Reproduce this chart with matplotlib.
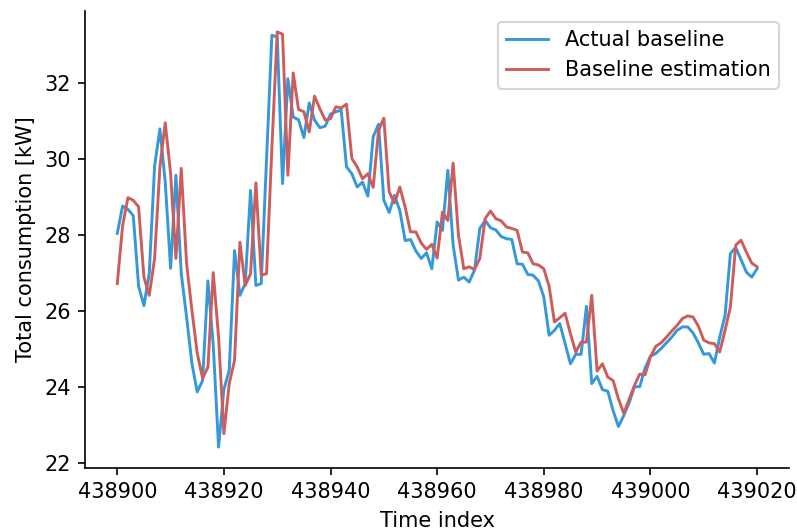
import numpy as np
import matplotlib
matplotlib.use("Agg")
import matplotlib.pyplot as plt

# time index of the window
start_index = 438900
end_index = 439020

actual_baseline = [
    28.05, 28.77, 28.68, 28.52, 26.66, 26.15, 27.00, 29.82, 30.80, 29.40,
    27.13, 29.58, 27.00, 25.85, 24.63, 23.88, 24.18, 26.80, 25.12, 22.43,
    23.95, 24.45, 27.60, 26.42, 26.73, 29.18, 26.68, 26.73, 30.00, 33.26,
    33.22, 29.36, 32.12, 31.11, 31.04, 30.57, 31.48, 31.03, 30.83, 30.87,
    31.19, 31.25, 31.29, 29.80, 29.62, 29.27, 29.40, 29.03, 30.59, 30.92,
    28.92, 28.60, 29.05, 28.65, 27.86, 27.89, 27.59, 27.39, 27.54, 27.12,
    28.35, 28.13, 29.71, 27.74, 26.82, 26.90, 26.77, 27.08, 28.18, 28.39,
    28.20, 28.14, 27.97, 27.91, 27.89, 27.25, 27.24, 26.97, 26.95, 26.80,
    26.38, 25.37, 25.50, 25.68, 25.15, 24.62, 24.87, 24.87, 26.13, 24.10,
    24.29, 23.94, 23.90, 23.39, 22.97, 23.26, 23.59, 24.01, 24.02, 24.51,
    24.82, 24.89, 25.02, 25.17, 25.32, 25.50, 25.59, 25.59, 25.43, 25.17,
    24.87, 24.89, 24.64, 25.32, 25.89, 27.52, 27.68, 27.36, 27.03, 26.90,
    27.12,
]

baseline_estimation = [
    26.73, 28.25, 28.99, 28.92, 28.75, 26.90, 26.42, 27.39, 29.80, 30.96,
    29.63, 27.39, 29.76, 27.26, 26.03, 24.90, 24.24, 24.53, 27.02, 25.32,
    22.78, 24.10, 24.71, 27.82, 26.68, 26.99, 29.38, 26.95, 26.99, 30.30,
    33.35, 33.29, 29.58, 32.27, 31.31, 31.25, 30.72, 31.66, 31.33, 31.03,
    31.07, 31.38, 31.35, 31.45, 30.02, 29.80, 29.49, 29.62, 29.26, 30.75,
    31.08, 29.14, 28.85, 29.27, 28.74, 28.09, 28.09, 27.80, 27.63, 27.76,
    27.40, 28.61, 28.39, 29.90, 28.00, 27.12, 27.17, 27.10, 27.39, 28.44,
    28.64, 28.44, 28.38, 28.22, 28.18, 28.13, 27.56, 27.54, 27.25, 27.22,
    27.12, 26.66, 25.72, 25.83, 25.95, 25.41, 24.93, 25.19, 25.19, 26.42,
    24.43, 24.62, 24.27, 24.18, 23.70, 23.32, 23.68, 24.05, 24.35, 24.33,
    24.80, 25.08, 25.17, 25.32, 25.48, 25.63, 25.81, 25.88, 25.85, 25.61,
    25.24, 25.17, 25.15, 24.93, 25.50, 26.11, 27.74, 27.87, 27.56, 27.27,
    27.17,
]

time_index = np.arange(start_index, end_index + 1)

fig, ax = plt.subplots(figsize=(797 / 150, 531 / 150), dpi=150)
fig.subplots_adjust(left=0.107, right=0.99, top=0.979, bottom=0.119)

ax.plot(time_index, actual_baseline, color="#3498db", lw=1.4, label="Actual baseline")
ax.plot(time_index, baseline_estimation, color="#cd5c5c", lw=1.4, label="Baseline estimation")

ax.set_xticks(np.arange(438900, 439021, 20))
ax.set_xlabel("Time index")
ax.set_ylabel("Total consumption [kW]")
ax.spines["top"].set_visible(False)
ax.spines["right"].set_visible(False)
ax.legend(loc="upper right")

fig.savefig("out.png", dpi=150)
